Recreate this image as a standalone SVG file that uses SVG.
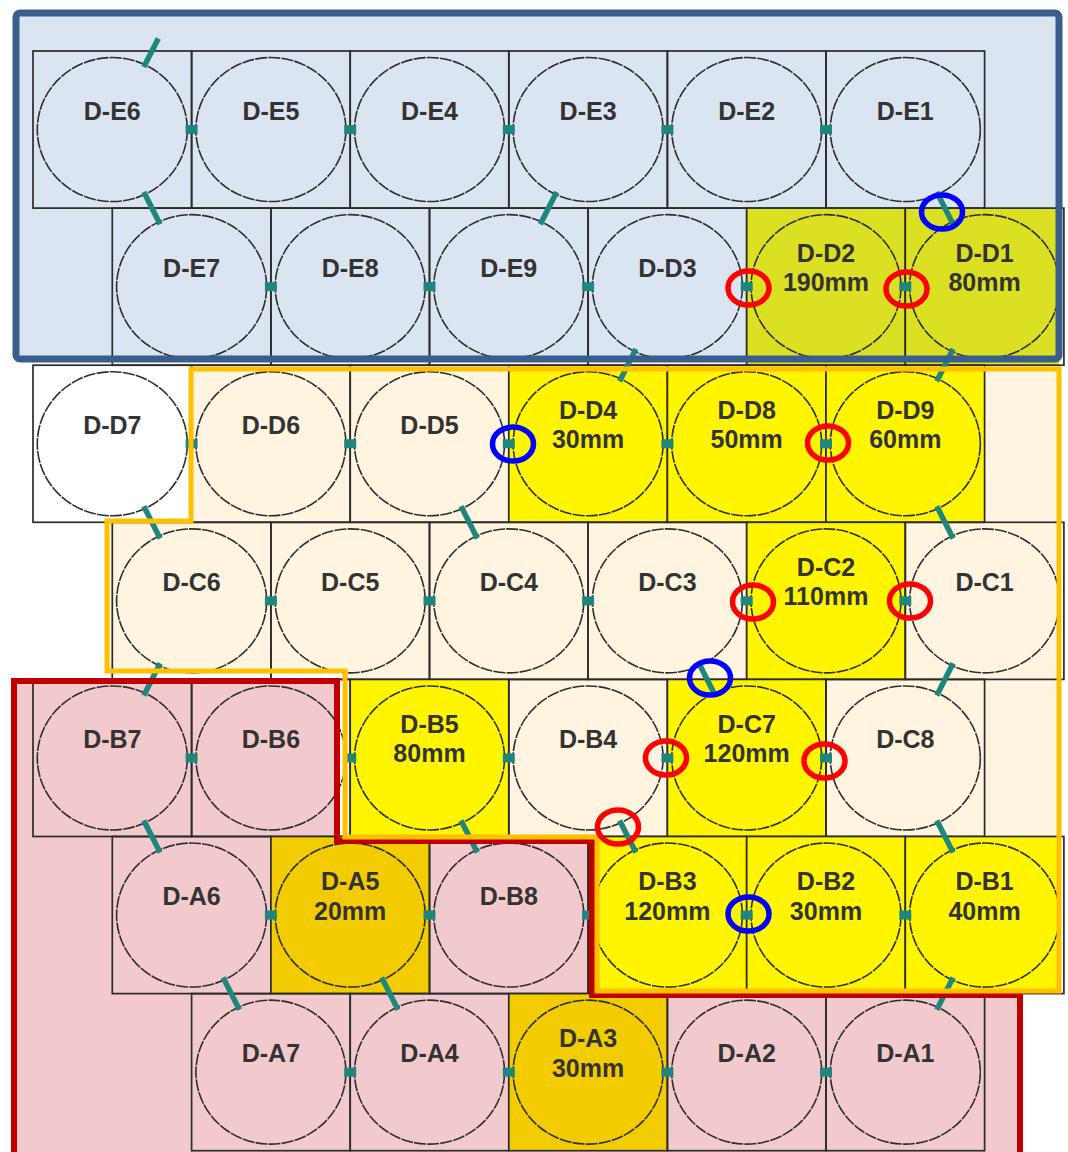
<svg xmlns="http://www.w3.org/2000/svg" xmlns:xlink="http://www.w3.org/1999/xlink" width="1068" height="1152" viewBox="0 0 1068 1152">
  <defs>
    <style>
      .cell { fill: none; stroke: #2b2b2b; stroke-width: 1.7; }
      .ring { fill: none; stroke: #2e2e2e; stroke-width: 1.6; stroke-dasharray: 12 1.2; }
      .lbl { font-family: "Liberation Sans", Arial, sans-serif; font-size: 25px; font-weight: bold; fill: #333333; text-anchor: middle; }
      .yg { fill: #dbe122; }
      .yl { fill: #fff500; }
      .gd { fill: #f2cb00; }
      .link { stroke: #1f867d; stroke-width: 5.5; fill: none; }
      .jn { fill: #1f867d; }
      .mark-r { fill: none; stroke: #ff0000; stroke-width: 5.5; }
      .mark-b { fill: none; stroke: #0000ff; stroke-width: 5.5; }
    </style>
    <rect id="jn" class="jn" x="-6" y="-4.5" width="12" height="9"/>
  </defs>

  <!-- background and zone fills -->
  <rect width="1068" height="1152" fill="#ffffff"/>
  <g id="zone-fills">
    <rect x="16" y="13" width="1043" height="346" rx="4" fill="#dbe4f1"/>
    <path d="M191,369 H1059 V991 H597 V837 H345 V671 H107 V521 H191 Z" fill="#fef4e0"/>
    <path d="M14,681 H337 V841 H592 V995 H1020 V1152 H14 Z" fill="#f2cacd"/>
  </g>

  <!-- row E (top) -->
  <g id="D-E6"><rect class="cell" x="33" y="51" width="158.6" height="157.1"/><ellipse class="ring" cx="112.3" cy="129.55" rx="75" ry="72"/><text class="lbl" x="112.3" y="119.55">D-E6</text></g>
  <g id="D-E5"><rect class="cell" x="191.6" y="51" width="158.6" height="157.1"/><ellipse class="ring" cx="270.9" cy="129.55" rx="75" ry="72"/><text class="lbl" x="270.9" y="119.55">D-E5</text></g>
  <g id="D-E4"><rect class="cell" x="350.2" y="51" width="158.6" height="157.1"/><ellipse class="ring" cx="429.5" cy="129.55" rx="75" ry="72"/><text class="lbl" x="429.5" y="119.55">D-E4</text></g>
  <g id="D-E3"><rect class="cell" x="508.8" y="51" width="158.6" height="157.1"/><ellipse class="ring" cx="588.1" cy="129.55" rx="75" ry="72"/><text class="lbl" x="588.1" y="119.55">D-E3</text></g>
  <g id="D-E2"><rect class="cell" x="667.4" y="51" width="158.6" height="157.1"/><ellipse class="ring" cx="746.7" cy="129.55" rx="75" ry="72"/><text class="lbl" x="746.7" y="119.55">D-E2</text></g>
  <g id="D-E1"><rect class="cell" x="826" y="51" width="158.6" height="157.1"/><ellipse class="ring" cx="905.3" cy="129.55" rx="75" ry="72"/><text class="lbl" x="905.3" y="119.55">D-E1</text></g>

  <!-- row 2 -->
  <g id="D-E7"><rect class="cell" x="112.3" y="208.1" width="158.6" height="157.1"/><ellipse class="ring" cx="191.6" cy="286.65" rx="75" ry="72"/><text class="lbl" x="191.6" y="276.65">D-E7</text></g>
  <g id="D-E8"><rect class="cell" x="270.9" y="208.1" width="158.6" height="157.1"/><ellipse class="ring" cx="350.2" cy="286.65" rx="75" ry="72"/><text class="lbl" x="350.2" y="276.65">D-E8</text></g>
  <g id="D-E9"><rect class="cell" x="429.5" y="208.1" width="158.6" height="157.1"/><ellipse class="ring" cx="508.8" cy="286.65" rx="75" ry="72"/><text class="lbl" x="508.8" y="276.65">D-E9</text></g>
  <g id="D-D3"><rect class="cell" x="588.1" y="208.1" width="158.6" height="157.1"/><ellipse class="ring" cx="667.4" cy="286.65" rx="75" ry="72"/><text class="lbl" x="667.4" y="276.65">D-D3</text></g>
  <g id="D-D2"><rect class="yg" x="746.7" y="208.1" width="158.6" height="157.1"/><rect class="cell" x="746.7" y="208.1" width="158.6" height="157.1"/><ellipse class="ring" cx="826" cy="286.65" rx="75" ry="72"/><text class="lbl" x="826" y="261.65">D-D2</text><text class="lbl" x="826" y="291.15">190mm</text></g>
  <g id="D-D1"><rect class="yg" x="905.3" y="208.1" width="153.7" height="157.1"/><rect class="cell" x="905.3" y="208.1" width="158.6" height="157.1"/><ellipse class="ring" cx="984.6" cy="286.65" rx="75" ry="72"/><text class="lbl" x="984.6" y="261.65">D-D1</text><text class="lbl" x="984.6" y="291.15">80mm</text></g>

  <!-- row 3 -->
  <g id="D-D7"><rect class="cell" x="33" y="365.2" width="158.6" height="157.1"/><ellipse class="ring" cx="112.3" cy="443.75" rx="75" ry="72"/><text class="lbl" x="112.3" y="433.75">D-D7</text></g>
  <g id="D-D6"><rect class="cell" x="191.6" y="365.2" width="158.6" height="157.1"/><ellipse class="ring" cx="270.9" cy="443.75" rx="75" ry="72"/><text class="lbl" x="270.9" y="433.75">D-D6</text></g>
  <g id="D-D5"><rect class="cell" x="350.2" y="365.2" width="158.6" height="157.1"/><ellipse class="ring" cx="429.5" cy="443.75" rx="75" ry="72"/><text class="lbl" x="429.5" y="433.75">D-D5</text></g>
  <g id="D-D4"><rect class="yl" x="508.8" y="365.2" width="158.6" height="157.1"/><rect class="cell" x="508.8" y="365.2" width="158.6" height="157.1"/><ellipse class="ring" cx="588.1" cy="443.75" rx="75" ry="72"/><text class="lbl" x="588.1" y="418.75">D-D4</text><text class="lbl" x="588.1" y="448.25">30mm</text></g>
  <g id="D-D8"><rect class="yl" x="667.4" y="365.2" width="158.6" height="157.1"/><rect class="cell" x="667.4" y="365.2" width="158.6" height="157.1"/><ellipse class="ring" cx="746.7" cy="443.75" rx="75" ry="72"/><text class="lbl" x="746.7" y="418.75">D-D8</text><text class="lbl" x="746.7" y="448.25">50mm</text></g>
  <g id="D-D9"><rect class="yl" x="826" y="365.2" width="158.6" height="157.1"/><rect class="cell" x="826" y="365.2" width="158.6" height="157.1"/><ellipse class="ring" cx="905.3" cy="443.75" rx="75" ry="72"/><text class="lbl" x="905.3" y="418.75">D-D9</text><text class="lbl" x="905.3" y="448.25">60mm</text></g>

  <!-- row C -->
  <g id="D-C6"><rect class="cell" x="112.3" y="522.3" width="158.6" height="157.1"/><ellipse class="ring" cx="191.6" cy="600.85" rx="75" ry="72"/><text class="lbl" x="191.6" y="590.85">D-C6</text></g>
  <g id="D-C5"><rect class="cell" x="270.9" y="522.3" width="158.6" height="157.1"/><ellipse class="ring" cx="350.2" cy="600.85" rx="75" ry="72"/><text class="lbl" x="350.2" y="590.85">D-C5</text></g>
  <g id="D-C4"><rect class="cell" x="429.5" y="522.3" width="158.6" height="157.1"/><ellipse class="ring" cx="508.8" cy="600.85" rx="75" ry="72"/><text class="lbl" x="508.8" y="590.85">D-C4</text></g>
  <g id="D-C3"><rect class="cell" x="588.1" y="522.3" width="158.6" height="157.1"/><ellipse class="ring" cx="667.4" cy="600.85" rx="75" ry="72"/><text class="lbl" x="667.4" y="590.85">D-C3</text></g>
  <g id="D-C2"><rect class="yl" x="746.7" y="522.3" width="158.6" height="157.1"/><rect class="cell" x="746.7" y="522.3" width="158.6" height="157.1"/><ellipse class="ring" cx="826" cy="600.85" rx="75" ry="72"/><text class="lbl" x="826" y="575.85">D-C2</text><text class="lbl" x="826" y="605.35">110mm</text></g>
  <g id="D-C1"><rect class="cell" x="905.3" y="522.3" width="158.6" height="157.1"/><ellipse class="ring" cx="984.6" cy="600.85" rx="75" ry="72"/><text class="lbl" x="984.6" y="590.85">D-C1</text></g>

  <!-- row 5 -->
  <g id="D-B7"><rect class="cell" x="33" y="679.4" width="158.6" height="157.1"/><ellipse class="ring" cx="112.3" cy="757.95" rx="75" ry="72"/><text class="lbl" x="112.3" y="747.95">D-B7</text></g>
  <g id="D-B6"><rect class="cell" x="191.6" y="679.4" width="158.6" height="157.1"/><ellipse class="ring" cx="270.9" cy="757.95" rx="75" ry="72"/><text class="lbl" x="270.9" y="747.95">D-B6</text></g>
  <g id="D-B5"><rect class="yl" x="350.2" y="679.4" width="158.6" height="157.1"/><rect class="cell" x="350.2" y="679.4" width="158.6" height="157.1"/><ellipse class="ring" cx="429.5" cy="757.95" rx="75" ry="72"/><text class="lbl" x="429.5" y="732.95">D-B5</text><text class="lbl" x="429.5" y="762.45">80mm</text></g>
  <g id="D-B4"><rect class="cell" x="508.8" y="679.4" width="158.6" height="157.1"/><ellipse class="ring" cx="588.1" cy="757.95" rx="75" ry="72"/><text class="lbl" x="588.1" y="747.95">D-B4</text></g>
  <g id="D-C7"><rect class="yl" x="667.4" y="679.4" width="158.6" height="157.1"/><rect class="cell" x="667.4" y="679.4" width="158.6" height="157.1"/><ellipse class="ring" cx="746.7" cy="757.95" rx="75" ry="72"/><text class="lbl" x="746.7" y="732.95">D-C7</text><text class="lbl" x="746.7" y="762.45">120mm</text></g>
  <g id="D-C8"><rect class="cell" x="826" y="679.4" width="158.6" height="157.1"/><ellipse class="ring" cx="905.3" cy="757.95" rx="75" ry="72"/><text class="lbl" x="905.3" y="747.95">D-C8</text></g>

  <!-- row 6 -->
  <g id="D-A6"><rect class="cell" x="112.3" y="836.5" width="158.6" height="157.1"/><ellipse class="ring" cx="191.6" cy="915.05" rx="75" ry="72"/><text class="lbl" x="191.6" y="905.05">D-A6</text></g>
  <g id="D-A5"><rect class="gd" x="270.9" y="836.5" width="158.6" height="157.1"/><rect class="cell" x="270.9" y="836.5" width="158.6" height="157.1"/><ellipse class="ring" cx="350.2" cy="915.05" rx="75" ry="72"/><text class="lbl" x="350.2" y="890.05">D-A5</text><text class="lbl" x="350.2" y="919.55">20mm</text></g>
  <g id="D-B8"><rect class="cell" x="429.5" y="836.5" width="158.6" height="157.1"/><ellipse class="ring" cx="508.8" cy="915.05" rx="75" ry="72"/><text class="lbl" x="508.8" y="905.05">D-B8</text></g>
  <g id="D-B3"><rect class="yl" x="588.1" y="836.5" width="158.6" height="157.1"/><rect class="cell" x="588.1" y="836.5" width="158.6" height="157.1"/><ellipse class="ring" cx="667.4" cy="915.05" rx="75" ry="72"/><text class="lbl" x="667.4" y="890.05">D-B3</text><text class="lbl" x="667.4" y="919.55">120mm</text></g>
  <g id="D-B2"><rect class="yl" x="746.7" y="836.5" width="158.6" height="157.1"/><rect class="cell" x="746.7" y="836.5" width="158.6" height="157.1"/><ellipse class="ring" cx="826" cy="915.05" rx="75" ry="72"/><text class="lbl" x="826" y="890.05">D-B2</text><text class="lbl" x="826" y="919.55">30mm</text></g>
  <g id="D-B1"><rect class="yl" x="905.3" y="836.5" width="153.7" height="157.1"/><rect class="cell" x="905.3" y="836.5" width="158.6" height="157.1"/><ellipse class="ring" cx="984.6" cy="915.05" rx="75" ry="72"/><text class="lbl" x="984.6" y="890.05">D-B1</text><text class="lbl" x="984.6" y="919.55">40mm</text></g>

  <!-- row A (bottom) -->
  <g id="D-A7"><rect class="cell" x="191.6" y="993.6" width="158.6" height="157.1"/><ellipse class="ring" cx="270.9" cy="1072.15" rx="75" ry="72"/><text class="lbl" x="270.9" y="1062.15">D-A7</text></g>
  <g id="D-A4"><rect class="cell" x="350.2" y="993.6" width="158.6" height="157.1"/><ellipse class="ring" cx="429.5" cy="1072.15" rx="75" ry="72"/><text class="lbl" x="429.5" y="1062.15">D-A4</text></g>
  <g id="D-A3"><rect class="gd" x="508.8" y="993.6" width="158.6" height="157.1"/><rect class="cell" x="508.8" y="993.6" width="158.6" height="157.1"/><ellipse class="ring" cx="588.1" cy="1072.15" rx="75" ry="72"/><text class="lbl" x="588.1" y="1047.15">D-A3</text><text class="lbl" x="588.1" y="1076.65">30mm</text></g>
  <g id="D-A2"><rect class="cell" x="667.4" y="993.6" width="158.6" height="157.1"/><ellipse class="ring" cx="746.7" cy="1072.15" rx="75" ry="72"/><text class="lbl" x="746.7" y="1062.15">D-A2</text></g>
  <g id="D-A1"><rect class="cell" x="826" y="993.6" width="158.6" height="157.1"/><ellipse class="ring" cx="905.3" cy="1072.15" rx="75" ry="72"/><text class="lbl" x="905.3" y="1062.15">D-A1</text></g>

  <!-- connectors: side joints and diagonal links -->
  <g id="connectors">
    <use href="#jn" x="191.6" y="129.55"/><use href="#jn" x="350.2" y="129.55"/><use href="#jn" x="508.8" y="129.55"/><use href="#jn" x="667.4" y="129.55"/><use href="#jn" x="826" y="129.55"/>
    <use href="#jn" x="270.9" y="286.65"/><use href="#jn" x="429.5" y="286.65"/><use href="#jn" x="588.1" y="286.65"/><use href="#jn" x="746.7" y="286.65"/><use href="#jn" x="905.3" y="286.65"/>
    <use href="#jn" x="191.6" y="443.75"/><use href="#jn" x="350.2" y="443.75"/><use href="#jn" x="508.8" y="443.75"/><use href="#jn" x="667.4" y="443.75"/><use href="#jn" x="826" y="443.75"/>
    <use href="#jn" x="270.9" y="600.85"/><use href="#jn" x="429.5" y="600.85"/><use href="#jn" x="588.1" y="600.85"/><use href="#jn" x="746.7" y="600.85"/><use href="#jn" x="905.3" y="600.85"/>
    <use href="#jn" x="191.6" y="757.95"/><use href="#jn" x="350.2" y="757.95"/><use href="#jn" x="508.8" y="757.95"/><use href="#jn" x="667.4" y="757.95"/><use href="#jn" x="826" y="757.95"/>
    <use href="#jn" x="270.9" y="915.05"/><use href="#jn" x="429.5" y="915.05"/><use href="#jn" x="588.1" y="915.05"/><use href="#jn" x="746.7" y="915.05"/><use href="#jn" x="905.3" y="915.05"/>
    <use href="#jn" x="350.2" y="1072.15"/><use href="#jn" x="508.8" y="1072.15"/><use href="#jn" x="667.4" y="1072.15"/><use href="#jn" x="826" y="1072.15"/>

    <line class="link" x1="143.8" y1="67.1" x2="158.3" y2="38.5"/>
    <line class="link" x1="143.8" y1="192.0" x2="160.1" y2="224.2"/>
    <line class="link" x1="556.6" y1="192.0" x2="540.3" y2="224.2"/>
    <line class="link" x1="936.8" y1="192.0" x2="953.1" y2="224.2"/>
    <line class="link" x1="635.9" y1="349.1" x2="619.6" y2="381.3"/>
    <line class="link" x1="953.1" y1="349.1" x2="936.8" y2="381.3"/>
    <line class="link" x1="143.8" y1="506.2" x2="160.1" y2="538.4"/>
    <line class="link" x1="461.0" y1="506.2" x2="477.3" y2="538.4"/>
    <line class="link" x1="936.8" y1="506.2" x2="953.1" y2="538.4"/>
    <line class="link" x1="160.1" y1="663.3" x2="143.8" y2="695.5"/>
    <line class="link" x1="698.9" y1="663.3" x2="715.2" y2="695.5"/>
    <line class="link" x1="953.1" y1="663.3" x2="936.8" y2="695.5"/>
    <line class="link" x1="143.8" y1="820.4" x2="160.1" y2="852.6"/>
    <line class="link" x1="461.0" y1="820.4" x2="477.3" y2="852.6"/>
    <line class="link" x1="619.6" y1="820.4" x2="635.9" y2="852.6"/>
    <line class="link" x1="936.8" y1="820.4" x2="953.1" y2="852.6"/>
    <line class="link" x1="223.1" y1="977.5" x2="239.4" y2="1009.7"/>
    <line class="link" x1="381.7" y1="977.5" x2="398.0" y2="1009.7"/>
    <line class="link" x1="953.1" y1="977.5" x2="936.8" y2="1009.7"/>
  </g>

  <!-- zone outlines -->
  <g id="zone-outlines" fill="none" stroke-linejoin="miter">
    <rect x="16" y="13" width="1043" height="346" rx="4" stroke="#3a5e8c" stroke-width="7"/>
    <path d="M14,1156 V681 H337 V841 H592 V995 H1020 V1156" stroke="#c00000" stroke-width="6"/>
    <path d="M191,369 H1059 V991 H597 V837 H345 V671 H107 V521 H191 Z" stroke="#ffc000" stroke-width="5"/>
  </g>

  <!-- highlight marks -->
  <g id="marks">
    <ellipse class="mark-r" cx="748.5" cy="288" rx="20.5" ry="17"/>
    <ellipse class="mark-r" cx="906.5" cy="289" rx="20.5" ry="17"/>
    <ellipse class="mark-r" cx="828" cy="443" rx="20.5" ry="17"/>
    <ellipse class="mark-r" cx="753" cy="602" rx="20.5" ry="17"/>
    <ellipse class="mark-r" cx="910" cy="601" rx="20.5" ry="17"/>
    <ellipse class="mark-r" cx="666" cy="758" rx="20.5" ry="17"/>
    <ellipse class="mark-r" cx="824.5" cy="761" rx="20.5" ry="17"/>
    <ellipse class="mark-r" cx="618" cy="827" rx="20.5" ry="17"/>
    <ellipse class="mark-b" cx="942" cy="212" rx="20.5" ry="17"/>
    <ellipse class="mark-b" cx="513" cy="444" rx="20.5" ry="17"/>
    <ellipse class="mark-b" cx="710" cy="678" rx="20.5" ry="17"/>
    <ellipse class="mark-b" cx="748.5" cy="914" rx="20.5" ry="17"/>
  </g>
</svg>
